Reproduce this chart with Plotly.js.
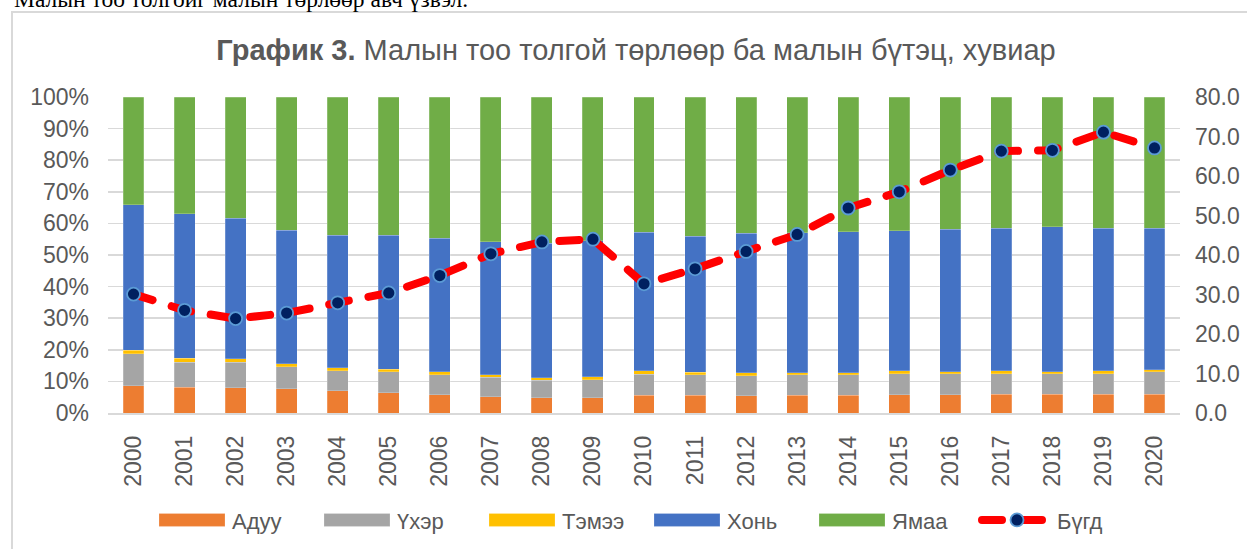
<!DOCTYPE html>
<html>
<head>
<meta charset="utf-8">
<script src="https://cdn.plot.ly/plotly-3.0.1.min.js"></script>
<style>
  html, body { margin: 0; padding: 0; background: #ffffff; overflow: hidden; }
  #frame { position: absolute; left: 11px; top: 11px; width: 1300px; height: 600px; border: 2px solid #d9d9d9; box-sizing: border-box; }
  #chart { position: absolute; left: 0; top: 0; width: 1247px; height: 549px; }
</style>
</head>
<body>
<div id="frame"></div>
<div id="chart"></div>
<script>
const years = ['2000','2001','2002','2003','2004','2005','2006','2007','2008','2009','2010',
               '2011','2012','2013','2014','2015','2016','2017','2018','2019','2020'];
const horse  = [8.7, 8.2, 8.0, 7.7, 7.0, 6.4, 5.7, 5.2, 4.8, 4.8, 5.6, 5.6, 5.5, 5.6, 5.6, 5.7, 5.7, 5.9, 5.9, 5.9, 5.9];
const cattle = [10.1, 7.9, 8.0, 7.0, 6.4, 6.6, 6.4, 6.1, 5.6, 5.8, 6.7, 6.5, 6.3, 6.5, 6.5, 6.7, 6.7, 6.6, 6.5, 6.6, 7.1];
const camel  = [1.1, 1.2, 1.1, 0.9, 1.0, 0.8, 0.9, 0.8, 0.8, 0.9, 1.0, 0.8, 0.9, 0.7, 0.7, 0.9, 0.6, 0.8, 0.6, 0.8, 0.7];
const sheep  = [46.0, 45.7, 44.6, 42.3, 41.8, 42.4, 42.3, 42.1, 42.5, 43.0, 43.9, 43.1, 44.2, 44.2, 44.6, 44.3, 45.2, 45.2, 46.0, 45.2, 44.8];
const goat   = [34.1, 37.0, 38.3, 42.1, 43.8, 43.8, 44.7, 45.8, 46.3, 45.5, 42.8, 44.0, 43.1, 43.0, 42.6, 42.4, 41.8, 41.5, 41.0, 41.5, 41.5];
const total  = [30.1, 26.0, 23.9, 25.3, 27.9, 30.4, 34.8, 40.3, 43.3, 44.0, 32.7, 36.5, 40.9, 45.2, 51.9, 56.0, 61.5, 66.3, 66.5, 71.1, 67.1];

const seriesNames = ['Адуу', 'Үхэр', 'Тэмээ', 'Хонь', 'Ямаа', 'Бүгд'];
const leftTicks = [0, 10, 20, 30, 40, 50, 60, 70, 80, 90, 100];
const leftTickLabels = ['0%', '10%', '20%', '30%', '40%', '50%', '60%', '70%', '80%', '90%', '100%'];
const rightTicks = [0, 10, 20, 30, 40, 50, 60, 70, 80];
const rightTickLabels = ['0.0', '10.0', '20.0', '30.0', '40.0', '50.0', '60.0', '70.0', '80.0'];

const FONT = 'Liberation Sans, Arial, sans-serif';
const GREY = '#595959';

function barTrace(name, vals, color) {
  return {
    type: 'bar', name: name, x: years, y: vals,
    marker: { color: color, line: { color: 'rgba(255,255,255,0.35)', width: 0.6 } },
    hoverinfo: 'skip'
  };
}

const traces = [
  barTrace(seriesNames[0], horse,  '#ED7D31'),
  barTrace(seriesNames[1], cattle, '#A5A5A5'),
  barTrace(seriesNames[2], camel,  '#FFC000'),
  barTrace(seriesNames[3], sheep,  '#4472C4'),
  barTrace(seriesNames[4], goat,   '#70AD47'),
  {
    type: 'scatter', mode: 'lines+markers', name: seriesNames[5],
    x: years, y: total, yaxis: 'y2',
    line: { color: '#FF0000', width: 8, dash: '20px,20px' },
    marker: { color: '#002060', size: 13, line: { color: '#5B9BD5', width: 1.8 } },
    hoverinfo: 'skip'
  }
];

const layout = {
  width: 1247, height: 549,
  margin: { l: 108, r: 67, t: 97, b: 136, pad: 0, autoexpand: false },
  paper_bgcolor: 'rgba(0,0,0,0)',
  plot_bgcolor: 'rgba(0,0,0,0)',
  font: { family: FONT, color: GREY, size: 23 },
  barmode: 'stack',
  barnorm: 'percent',
  bargap: 0.59,
  showlegend: true,
  title: {
    text: '<b>График 3.</b> Малын тоо толгой төрлөөр ба малын бүтэц, хувиар',
    font: { family: FONT, size: 29, color: GREY },
    x: 636 / 1247, xanchor: 'center', xref: 'container',
    y: 1 - 50 / 549, yanchor: 'middle', yref: 'container'
  },
  xaxis: {
    type: 'category', tickangle: -90, automargin: false,
    range: [-0.5, years.length - 0.5], autorange: false,
    showgrid: false, showline: true, linecolor: '#d9d9d9', linewidth: 1.5,
    ticks: '', ticklabelstandoff: 12,
    tickfont: { family: FONT, size: 23, color: GREY }
  },
  yaxis: {
    range: [0, 100], tickmode: 'array', tickvals: leftTicks, ticktext: leftTickLabels,
    automargin: false,
    showgrid: true, gridcolor: '#d9d9d9', gridwidth: 1.5,
    zeroline: false, showline: false, ticks: '', ticklabelstandoff: 18,
    tickfont: { family: FONT, size: 23, color: GREY }
  },
  yaxis2: {
    overlaying: 'y', side: 'right', range: [0, 80],
    tickmode: 'array', tickvals: rightTicks, ticktext: rightTickLabels,
    automargin: false,
    showgrid: false, zeroline: false, showline: false,
    ticks: '', ticklabelstandoff: 14,
    tickfont: { family: FONT, size: 23, color: GREY }
  },
  legend: {
    orientation: 'h', x: (152 - 108) / 1072, xanchor: 'left', y: -0.339, yanchor: 'middle',
    font: { family: FONT, size: 22, color: GREY },
    itemwidth: 70, entrywidth: 80, entrywidthmode: 'pixels',
    traceorder: 'normal', bgcolor: 'rgba(0,0,0,0)'
  },
  annotations: [{
    text: 'Малын тоо толгойг малын төрлөөр авч үзвэл.',
    xref: 'paper', yref: 'paper',
    x: (12 - 108) / 1072, xanchor: 'left',
    y: (413 + 1) / 316, yanchor: 'middle',
    showarrow: false,
    font: { family: 'Liberation Serif, Times New Roman, serif', size: 23.5, color: '#000000' }
  }]
};

Plotly.newPlot('chart', traces, layout, { staticPlot: true, displayModeBar: false }).then(function (gd) {
  gd.querySelectorAll('.scatterlayer .js-line').forEach(function (p) {
    p.style.strokeLinecap = 'round';
  });
  gd.querySelectorAll('.legend .traces').forEach(function (t) {
    t.querySelectorAll('.legendpoints path').forEach(function (p) {
      var d = (p.getAttribute('d') || '').replace(/\s/g, '');
      if (d === 'M6,6H-6V-6H6Z') {
        p.setAttribute('d', 'M33,6.5H-33V-6.5H33Z');
      }
    });
    t.querySelectorAll('.legendlines path').forEach(function (p) {
      p.style.strokeLinecap = 'round';
    });
  });
});
</script>
</body>
</html>
